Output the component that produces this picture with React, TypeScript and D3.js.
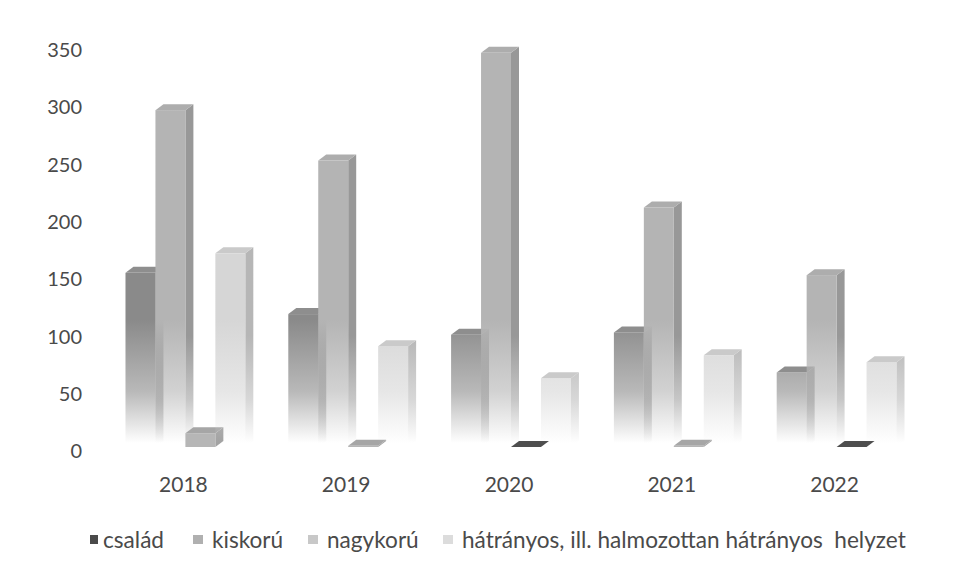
import React from "react";
import * as d3 from "d3";

const years = ["2018", "2019", "2020", "2021", "2022"];
const seriesNames = [
  "család",
  "kiskorú",
  "nagykorú",
  "hátrányos, ill. halmozottan hátrányos  helyzet",
];
const csalad = [152, 116, 98, 100, 65];
const kiskoru = [294, 250, 344, 209, 150];
const nagykoru = [12, 1, 0, 1, 0];
const hatranyos = [169, 88, 60, 80, 74];
const yTicks = [0, 50, 100, 150, 200, 250, 300, 350];

const values = [csalad, kiskoru, nagykoru, hatranyos];

// front / side / top shades per series, legend marker colour; fade = washes out toward the floor
const shades = [
  { front: "#8a8a8a", side: "#747474", top: "#8e8e8e", key: "#4a4a4a", fade: true },
  { front: "#b4b4b4", side: "#989898", top: "#adadad", key: "#b0b0b0", fade: true },
  { front: "#b6b6b6", side: "#a2a2a2", top: "#a6a6a6", key: "#c8c8c8", fade: false },
  { front: "#d6d6d6", side: "#b6b6b6", top: "#cacaca", key: "#dcdcdc", fade: true },
];

const W = 966;
const H = 572;
const DX = 8;
const DY = 6;
const FONT = "Lato, 'Open Sans', sans-serif";

export default function App() {
  const y = d3.scaleLinear().domain([0, 350]).range([451, 50]);
  const x0 = d3
    .scaleBand()
    .domain(years)
    .range([104, 918])
    .paddingInner(0.264)
    .paddingOuter(0.132);
  const x1 = d3
    .scaleBand()
    .domain(seriesNames)
    .range([0, x0.bandwidth()]);
  const base = y(0) - 4;
  const shift = base - y(0);

  const bars: JSX.Element[] = [];
  years.forEach((yr, i) => {
    seriesNames.forEach((s, j) => {
      const v = values[j][i];
      const x = (x0(yr) as number) + (x1(s) as number);
      const w = x1.bandwidth();
      const top = y(v) + shift;
      const sh = shades[j];
      const topPts = [
        [x, top],
        [x + DX, top - DY],
        [x + w + DX, top - DY],
        [x + w, top],
      ];
      const sidePts = [
        [x + w, top],
        [x + w + DX, top - DY],
        [x + w + DX, base - DY],
        [x + w, base],
      ];
      bars.push(
        <g key={yr + s}>
          {v > 0 && (
            <polygon
              points={sidePts.map((p) => p.join(",")).join(" ")}
              fill={sh.fade ? `url(#side${j})` : sh.side}
            />
          )}
          {v > 0 && (
            <rect
              x={x}
              y={top}
              width={w}
              height={base - top}
              fill={sh.fade ? `url(#front${j})` : sh.front}
            />
          )}
          <polygon
            points={topPts.map((p) => p.join(",")).join(" ")}
            fill={v === 0 ? "#4e4e4e" : sh.top}
          />
        </g>
      );
    });
  });

  const legendX = [90, 193, 308, 443];

  return (
    <svg
      width={W}
      height={H}
      style={{ position: "absolute", left: 0, top: 0, background: "#fff" }}
    >
      <defs>
        {shades.map((sh, j) => (
          <React.Fragment key={j}>
            <linearGradient
              id={`front${j}`}
              gradientUnits="userSpaceOnUse"
              x1={0}
              x2={0}
              y1={y(350)}
              y2={base}
            >
              <stop offset="0" stopColor={sh.front} />
              <stop offset="0.68" stopColor={sh.front} />
              <stop offset="0.86" stopColor={sh.front} stopOpacity={0.6} />
              <stop offset="0.99" stopColor={sh.front} stopOpacity={0} />
            </linearGradient>
            <linearGradient
              id={`side${j}`}
              gradientUnits="userSpaceOnUse"
              x1={0}
              x2={0}
              y1={y(350)}
              y2={base}
            >
              <stop offset="0" stopColor={sh.side} />
              <stop offset="0.72" stopColor={sh.side} />
              <stop offset="0.88" stopColor={sh.side} stopOpacity={0.55} />
              <stop offset="0.99" stopColor={sh.side} stopOpacity={0} />
            </linearGradient>
          </React.Fragment>
        ))}
      </defs>
      <rect width={W} height={H} fill="#fff" />

      {yTicks.map((t) => (
        <text
          key={t}
          x={82}
          y={y(t)}
          dy="0.36em"
          textAnchor="end"
          fontFamily={FONT}
          fontSize={20}
          fill="#4a4a4a"
        >
          {t}
        </text>
      ))}

      {bars}

      {years.map((yr) => (
        <text
          key={yr}
          x={(x0(yr) as number) + x0.bandwidth() / 2 - 2}
          y={492}
          textAnchor="middle"
          fontFamily={FONT}
          fontSize={21}
          fill="#4a4a4a"
        >
          {yr}
        </text>
      ))}

      {seriesNames.map((s, j) => (
        <g key={s} transform={`translate(${legendX[j]},540)`}>
          <rect x={0} y={-5} width={j === 0 ? 8 : 10} height={9} fill={shades[j].key} />
          <text
            x={j === 0 ? 13 : 19}
            y={0}
            dy="0.36em"
            fontFamily={FONT}
            fontSize={22.6}
            fill="#4a4a4a"
            style={{ whiteSpace: "pre" }}
          >
            {s}
          </text>
        </g>
      ))}
    </svg>
  );
}
